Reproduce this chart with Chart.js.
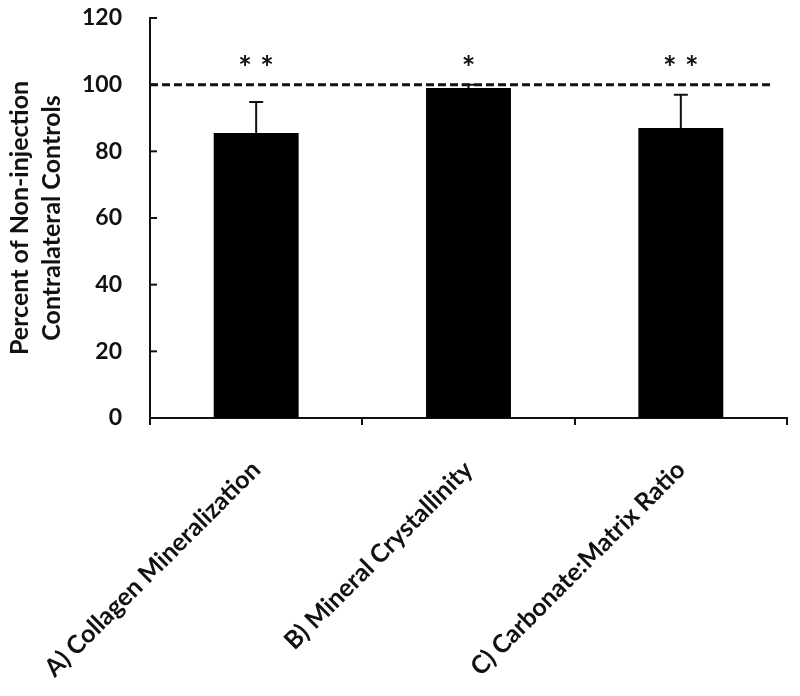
<!DOCTYPE html>
<html>
<head>
<meta charset="utf-8">
<script src="https://cdn.jsdelivr.net/npm/chart.js@4/dist/chart.umd.min.js"></script>
<style>
  html,body{margin:0;padding:0;background:#fff;}
  #wrap{width:800px;height:696px;position:relative;}
</style>
</head>
<body>
<div id="wrap"><canvas id="c"></canvas></div>
<script>
/* ---- data ---- */
const labels = ['A) Collagen Mineralization', 'B) Mineral Crystallinity', 'C) Carbonate:Matrix Ratio'];
const values = [85.5, 99, 87];
const errors = [9.3, 1, 10];
const stars  = ['**', '*', '**'];
const yTicks = [0, 20, 40, 60, 80, 100, 120];
const refLevel = 100;   // dashed control line
const starLevel = 107;  // where the significance marks sit

const INK = '#111';
const FONT = 'Lato, "Open Sans", sans-serif';

// error bars (upper only), dashed 100% line, stars, inward y ticks
const extras = {
  id:'extras',
  afterDatasetsDraw(chart){
    const {ctx, chartArea:a, scales:{x, y}} = chart;
    const bars = chart.getDatasetMeta(0).data;
    ctx.save();
    ctx.strokeStyle = INK; ctx.fillStyle = INK;

    // y ticks pointing into the plot
    ctx.lineWidth = 2;
    yTicks.forEach(v=>{
      const py = y.getPixelForValue(v);
      ctx.beginPath(); ctx.moveTo(a.left, py); ctx.lineTo(a.left+7, py); ctx.stroke();
    });

    // error bars
    ctx.lineWidth = 2;
    bars.forEach((b,i)=>{
      const top = y.getPixelForValue(values[i]+errors[i]);
      ctx.beginPath();
      ctx.moveTo(b.x, b.y); ctx.lineTo(b.x, top);
      ctx.moveTo(b.x-7, top); ctx.lineTo(b.x+7, top);
      ctx.stroke();
    });

    // dashed reference line
    const ry = y.getPixelForValue(refLevel);
    ctx.lineWidth = 3; ctx.setLineDash([8,4]);
    ctx.beginPath(); ctx.moveTo(a.left, ry); ctx.lineTo(a.right-15, ry); ctx.stroke();
    ctx.setLineDash([]);

    // significance stars
    ctx.font = 'bold 32px ' + FONT;
    ctx.textAlign = 'center'; ctx.textBaseline = 'middle';
    const sy = y.getPixelForValue(starLevel);
    stars.forEach((s,i)=>{
      const cx = x.getPixelForValue(i);
      const n = s.length;
      for(let k=0;k<n;k++){
        ctx.fillText('*', cx + (k-(n-1)/2)*22, sy + 8);
      }
    });
    ctx.restore();
  }
};

new Chart(document.getElementById('c'), {
  type:'bar',
  data:{ labels, datasets:[{ data: values, backgroundColor:'#000', borderWidth:0, categoryPercentage:1, barPercentage:0.4 }] },
  options:{
    responsive:true, maintainAspectRatio:false, animation:false,
    layout:{ padding:{ top:18, right:13, left:0, bottom:0 } },
    plugins:{ legend:{display:false}, tooltip:{enabled:false} },
    scales:{
      x:{
        offset:true,
        grid:{ display:true, drawOnChartArea:false, offset:true, color:INK, lineWidth:2, tickLength:7 },
        border:{ display:true, color:INK, width:2 },
        ticks:{ color:INK, font:{family:FONT, size:25, weight:'bold'}, minRotation:45, maxRotation:45, autoSkip:false, padding:30 },
        // fixed bottom gutter; rotated labels may hang left without moving the plot
        afterFit(s){ s.height = 696 - 418; s.paddingLeft = 0; s.paddingRight = 0; }
      },
      y:{
        min:0, max:120,
        afterBuildTicks(s){ s.ticks = yTicks.map(v=>({value:v})); },
        grid:{ display:false, drawTicks:false },
        border:{ display:true, color:INK, width:2 },
        ticks:{ color:INK, font:{family:FONT, size:23, weight:'bold'}, padding:28 },
        title:{ display:true, text:['Percent of Non-injection','Contralateral Controls'], color:INK,
                font:{family:FONT, size:25, weight:'bold', lineHeight:1.28}, padding:{top:4, bottom:0} },
        // fixed left gutter; drop the tick-padding that chart.js adds above/below
        afterFit(s){ s.width = 150; s.paddingTop = 0; s.paddingBottom = 0; }
      }
    }
  },
  plugins:[extras]
});
</script>
</body>
</html>
